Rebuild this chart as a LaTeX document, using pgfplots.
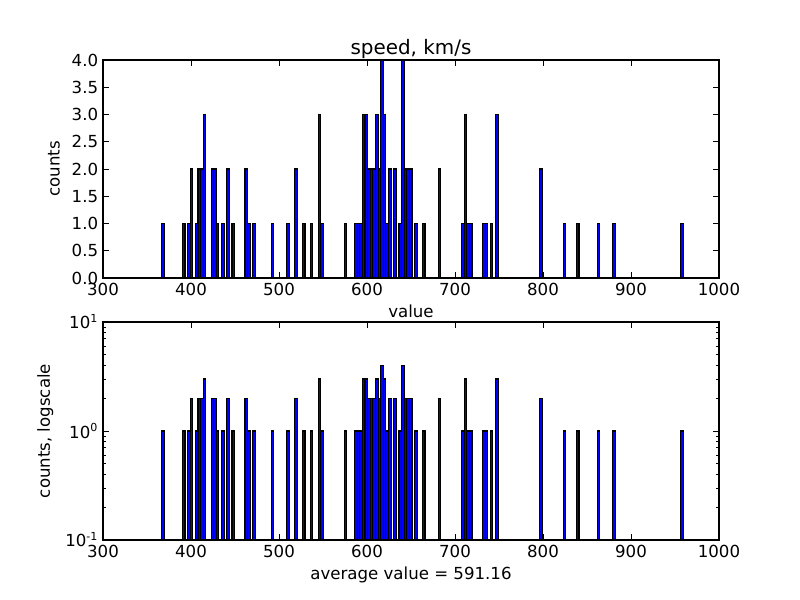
\documentclass[border=0pt]{standalone}
\usepackage{fontspec}
\setmainfont{DejaVu Sans}
\usepackage{pgfplots}
\usepackage{pgfplotstable}
\pgfplotsset{compat=1.18}
\pgfplotstableread{
x c
367.98 1
391.70 1
397.63 1
400.60 2
406.53 1
409.49 2
412.46 2
415.42 3
424.32 2
427.28 2
430.25 1
436.18 1
442.11 2
448.04 1
462.86 2
465.83 1
471.76 1
492.51 1
510.30 1
519.20 2
528.09 1
536.99 1
545.88 3
548.85 1
575.53 1
587.39 1
590.36 1
593.32 1
596.29 3
599.25 3
602.22 2
605.18 2
608.15 2
611.11 3
614.08 2
617.04 4
620.01 3
622.97 1
625.94 2
631.87 2
637.80 1
640.76 4
643.73 2
646.69 2
649.66 2
655.59 1
664.48 1
682.27 2
708.96 1
711.92 3
714.89 1
717.85 1
732.68 1
735.64 1
741.57 1
747.50 3
797.91 2
824.59 1
839.42 1
863.14 1
880.93 1
958.02 1
}\speeddata
\begin{document}
\begin{tikzpicture}[font=\fontsize{12}{14}\selectfont]
\path[use as bounding box] (0,0) rectangle (8in,6in);
\pgfplotsset{
  myaxis/.style={
    scale only axis, width=6.16in, height=2.18in, anchor=south west,
    xmin=300, xmax=1000, xtick={300,400,...,1000},
    axis line style={line width=0.9pt},
    every tick/.style={black, line width=0.6pt},
    major tick length=4pt, minor tick length=2pt,
    tick align=inside,
    /pgf/number format/assume math mode=true,
    xticklabel style={/pgf/number format/1000 sep={}},
    xlabel style={inner sep=0pt},
    ylabel style={inner sep=0pt},
    xlabel shift=3pt, ylabel shift=5pt,
    clip=false,
  },
  mybars/.style={ybar, bar width=2.965, fill=blue, draw=black, line width=0.8pt},
}
\begin{axis}[myaxis, at={(1.03in,3.22in)},
  ymin=0, ymax=4, ytick={0,0.5,1,1.5,2,2.5,3,3.5,4},
  yticklabel style={/pgf/number format/fixed, /pgf/number format/fixed zerofill, /pgf/number format/precision=1},
  xlabel={value}, ylabel={counts},
  title={speed, km/s},
  title style={font=\fontsize{14.4}{17}\selectfont, yshift=-8.5pt},
]
\addplot[draw=black, line width=1pt] coordinates {(366.5,0) (959.5,0)};
\addplot[mybars] table[x=x,y=c] {\speeddata};
\end{axis}
\begin{axis}[myaxis, at={(1.03in,0.60in)},
  ymode=log, ymin=0.1, ymax=10, log origin=infty,
  ytick={0.1,1,10},
  yticklabels={{10\textsuperscript{-1}},{10\textsuperscript{0}},{10\textsuperscript{1}}},
  minor ytick={0.2,0.3,0.4,0.5,0.6,0.7,0.8,0.9,2,3,4,5,6,7,8,9},
  xlabel={average value = 591.16}, ylabel={counts, logscale},
]
\addplot[mybars] table[x=x,y=c] {\speeddata};
\end{axis}
\end{tikzpicture}
\end{document}
